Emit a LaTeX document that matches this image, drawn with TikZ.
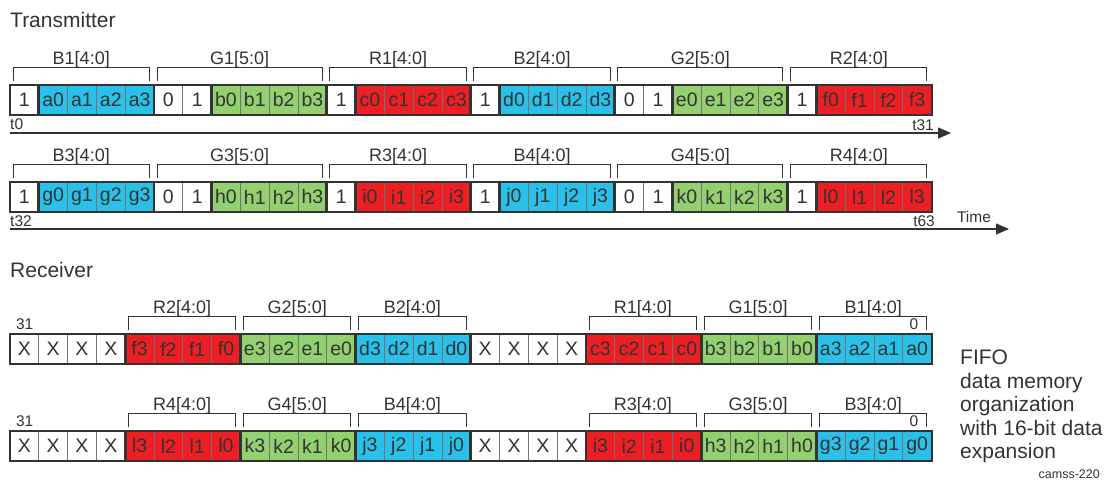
\documentclass[tikz,border=0pt]{standalone}
\usepackage{fontspec}
\setmainfont{Liberation Sans}
\usetikzlibrary{arrows.meta,calc}
\definecolor{fifoblue}{RGB}{41,193,233}
\definecolor{fifogreen}{RGB}{146,208,112}
\definecolor{fifored}{RGB}{237,30,36}
\definecolor{fifoink}{RGB}{51,51,51}

\begin{document}
\begin{tikzpicture}[x=1pt,y=-1pt,
  cell/.style={draw=black!55,line width=0.7pt,minimum width=28.8pt,minimum height=29pt,
    inner sep=0pt,text=fifoink,font=\fontsize{19.5}{20}\selectfont},
  cw/.style={fill=white},
  cb/.style={fill=fifoblue},
  cg/.style={fill=fifogreen},
  cr/.style={fill=fifored},
  grpbox/.style={draw=fifoink,line width=2.2pt},
  brk/.style={draw=fifoink,line width=1pt},
  brklbl/.style={font=\fontsize{18}{18}\selectfont,text=fifoink,anchor=base,inner sep=0pt,yshift=3pt},
  tlbl/.style={font=\fontsize{15.5}{16}\selectfont,text=fifoink,inner sep=0pt},
  titletext/.style={font=\fontsize{21}{21}\selectfont,text=fifoink,inner sep=0pt,anchor=west},
  timeaxis/.style={draw=fifoink,line width=1.3pt,-{Triangle[length=13pt,width=11pt]}}
]
  \useasboundingbox (0,0) rectangle (1106,482);

  % Transmitter
  \node[titletext] (tx) at (10,20) {Transmitter};

  \foreach \t/\s [count=\i from 0] in {1/cw,a0/cb,a1/cb,a2/cb,a3/cb,0/cw,1/cw,b0/cg,b1/cg,b2/cg,b3/cg,
      1/cw,c0/cr,c1/cr,c2/cr,c3/cr,1/cw,d0/cb,d1/cb,d2/cb,d3/cb,0/cw,1/cw,e0/cg,e1/cg,e2/cg,e3/cg,
      1/cw,f0/cr,f1/cr,f2/cr,f3/cr}
    \node[cell,\s] (ta\i) at ({24.4+28.8*\i},100) {\t};
  \foreach \t/\s [count=\i from 0] in {1/cw,g0/cb,g1/cb,g2/cb,g3/cb,0/cw,1/cw,h0/cg,h1/cg,h2/cg,h3/cg,
      1/cw,i0/cr,i1/cr,i2/cr,i3/cr,1/cw,j0/cb,j1/cb,j2/cb,j3/cb,0/cw,1/cw,k0/cg,k1/cg,k2/cg,k3/cg,
      1/cw,l0/cr,l1/cr,l2/cr,l3/cr}
    \node[cell,\s] (tb\i) at ({24.4+28.8*\i},197) {\t};

  \foreach \a/\b in {0/0,1/4,5/6,7/10,11/11,12/15,16/16,17/20,21/22,23/26,27/27,28/31} {
    \draw[grpbox] (ta\a.north west) rectangle (ta\b.south east);
    \draw[grpbox] (tb\a.north west) rectangle (tb\b.south east);
  }

  \foreach \a/\b/\l in {0/4/B1[4:0],5/10/G1[5:0],11/15/R1[4:0],16/20/B2[4:0],21/26/G2[5:0],27/31/R2[4:0]}
    \draw[brk] ([xshift=3.5pt,yshift=4pt]ta\a.north west) |- ([xshift=-5pt,yshift=18pt]ta\b.north east)
      node[brklbl,pos=0.75] (tal\a) {\l} -- ([xshift=-5pt,yshift=4pt]ta\b.north east);
  \foreach \a/\b/\l in {0/4/B3[4:0],5/10/G3[5:0],11/15/R3[4:0],16/20/B4[4:0],21/26/G4[5:0],27/31/R4[4:0]}
    \draw[brk] ([xshift=3.5pt,yshift=4pt]tb\a.north west) |- ([xshift=-5pt,yshift=18pt]tb\b.north east)
      node[brklbl,pos=0.75] (tbl\a) {\l} -- ([xshift=-5pt,yshift=4pt]tb\b.north east);

  % time axes
  \coordinate (tas) at (10,133);
  \coordinate (tae) at (951,133);
  \draw[timeaxis] (tas) -- (tae);
  \node[tlbl,anchor=west] (t0) at (10,124) {t0};
  \node[tlbl,anchor=east] (t31) at (934,125) {t31};

  \coordinate (tbs) at (10,229);
  \coordinate (tbe) at (1009,229);
  \draw[timeaxis] (tbs) -- (tbe);
  \node[tlbl,anchor=west] (t32) at (10,221) {t32};
  \node[tlbl,anchor=east] (t63) at (935,221) {t63};
  \node[tlbl] (time) at (974,217) {Time};

  % Receiver
  \node[titletext] (rx) at (10,270) {Receiver};

  \foreach \t/\s [count=\i from 0] in {X/cw,X/cw,X/cw,X/cw,f3/cr,f2/cr,f1/cr,f0/cr,e3/cg,e2/cg,e1/cg,e0/cg,
      d3/cb,d2/cb,d1/cb,d0/cb,X/cw,X/cw,X/cw,X/cw,c3/cr,c2/cr,c1/cr,c0/cr,b3/cg,b2/cg,b1/cg,b0/cg,
      a3/cb,a2/cb,a1/cb,a0/cb}
    \node[cell,\s] (ra\i) at ({24.4+28.8*\i},349) {\t};
  \foreach \t/\s [count=\i from 0] in {X/cw,X/cw,X/cw,X/cw,l3/cr,l2/cr,l1/cr,l0/cr,k3/cg,k2/cg,k1/cg,k0/cg,
      j3/cb,j2/cb,j1/cb,j0/cb,X/cw,X/cw,X/cw,X/cw,i3/cr,i2/cr,i1/cr,i0/cr,h3/cg,h2/cg,h1/cg,h0/cg,
      g3/cb,g2/cb,g1/cb,g0/cb}
    \node[cell,\s] (rb\i) at ({24.4+28.8*\i},446) {\t};

  \foreach \a/\b in {0/3,4/7,8/11,12/15,16/19,20/23,24/27,28/31} {
    \draw[grpbox] (ra\a.north west) rectangle (ra\b.south east);
    \draw[grpbox] (rb\a.north west) rectangle (rb\b.south east);
  }

  \foreach \a/\b/\l in {4/7/R2[4:0],8/11/G2[5:0],12/15/B2[4:0],20/23/R1[4:0],24/27/G1[5:0],28/31/B1[4:0]}
    \draw[brk] ([xshift=3.5pt,yshift=4pt]ra\a.north west) |- ([xshift=-5pt,yshift=18pt]ra\b.north east)
      node[brklbl,pos=0.75] (ral\a) {\l} -- ([xshift=-5pt,yshift=4pt]ra\b.north east);
  \foreach \a/\b/\l in {4/7/R4[4:0],8/11/G4[5:0],12/15/B4[4:0],20/23/R3[4:0],24/27/G3[5:0],28/31/B3[4:0]}
    \draw[brk] ([xshift=3.5pt,yshift=4pt]rb\a.north west) |- ([xshift=-5pt,yshift=18pt]rb\b.north east)
      node[brklbl,pos=0.75] (rbl\a) {\l} -- ([xshift=-5pt,yshift=4pt]rb\b.north east);

  % bit numbers
  \node[tlbl] (ramsb) at ([xshift=15pt,yshift=10pt]ra0.north west) {31};
  \node[tlbl] (ralsb) at ([xshift=-18pt,yshift=10pt]ra31.north east) {0};
  \node[tlbl] (rbmsb) at ([xshift=15pt,yshift=10pt]rb0.north west) {31};
  \node[tlbl] (rblsb) at ([xshift=-18pt,yshift=10pt]rb31.north east) {0};

  \node[font=\fontsize{21}{23.5}\selectfont,text=fifoink,align=left,anchor=north west,inner sep=0pt]
    (fifo) at (960,350) {FIFO\\data memory\\organization\\with 16-bit data\\expansion};
  \node[font=\fontsize{12.5}{13}\selectfont,text=fifoink,anchor=east,inner sep=0pt] (tag) at (1100,474) {camss-220};
\end{tikzpicture}
\end{document}
